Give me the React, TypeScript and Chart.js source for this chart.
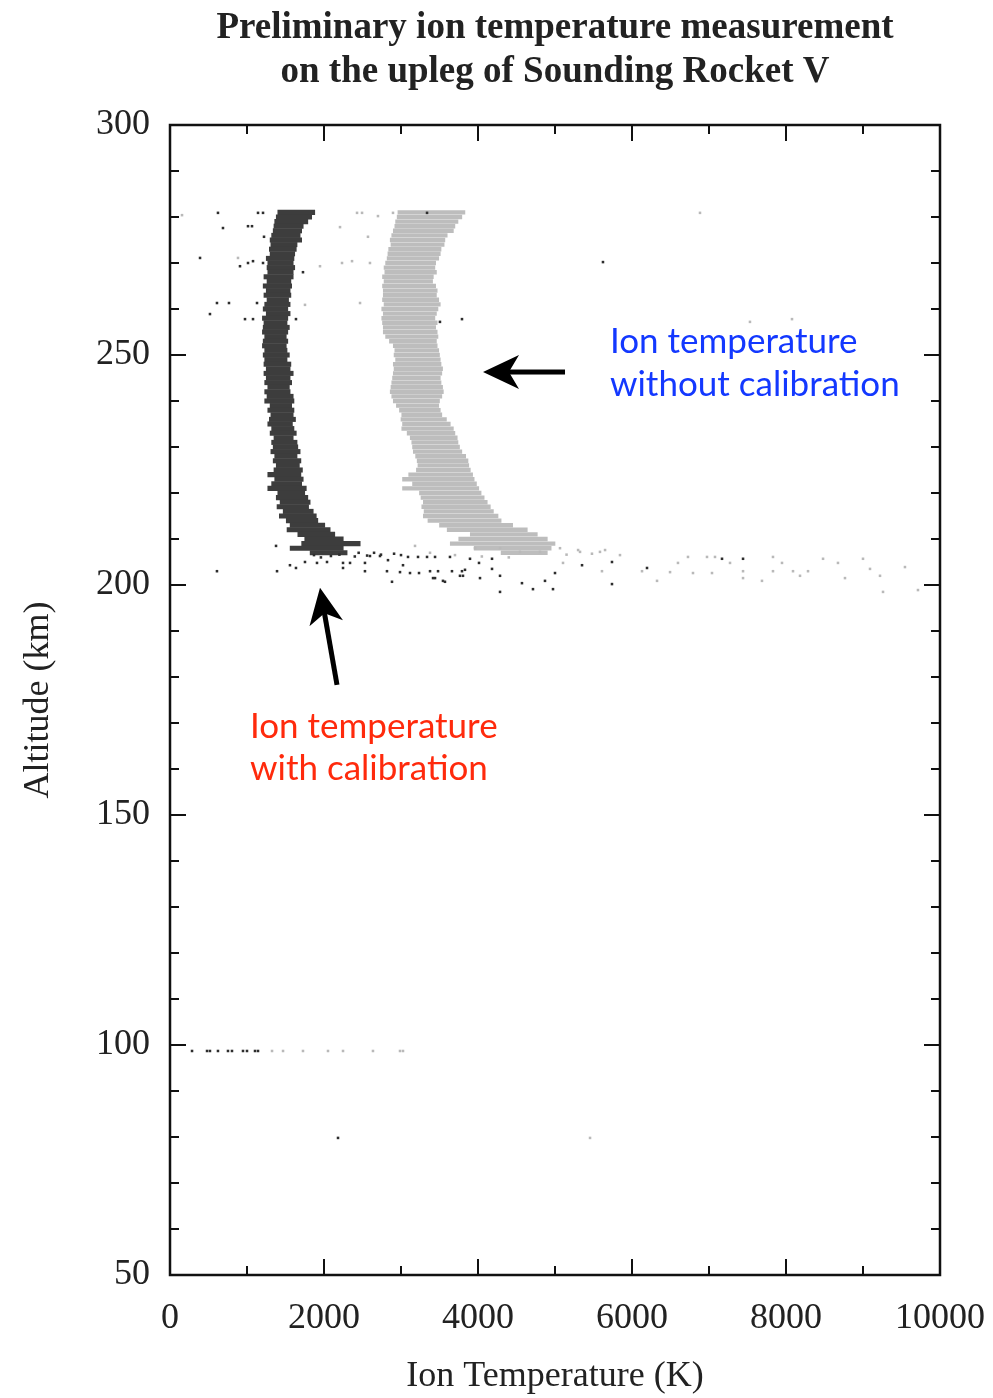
import React, { useEffect, useRef } from 'react';
import { Chart, registerables } from 'chart.js';

Chart.register(...registerables);

// ---------- data ----------
const bandAltitudes = [
  281, 280, 279, 278, 277, 276, 275, 274, 273, 272,
  271, 270, 269, 268, 267, 266, 265, 264, 263, 262,
  261, 260, 259, 258, 257, 256, 255, 254, 253, 252,
  251, 250, 249, 248, 247, 246, 245, 244, 243, 242,
  241, 240, 239, 238, 237, 236, 235, 234, 233, 232,
  231, 230, 229, 228, 227, 226, 225, 224, 223, 222,
  221, 220, 219, 218, 217, 216, 215, 214, 213, 212,
  211, 210, 209, 208, 207,
];

// calibrated (dark) band: min / max temperature at each altitude row
const darkLow = [
  1400, 1380, 1360, 1350, 1340, 1320, 1300, 1310, 1290, 1300,
  1250, 1270, 1260, 1270, 1220, 1260, 1210, 1250, 1220, 1260,
  1230, 1210, 1250, 1200, 1220, 1210, 1200, 1230, 1210, 1200,
  1230, 1210, 1230, 1220, 1250, 1220, 1250, 1230, 1270, 1230,
  1260, 1230, 1300, 1270, 1310, 1290, 1270, 1320, 1300, 1350,
  1320, 1340, 1310, 1360, 1340, 1380, 1350, 1270, 1360, 1320,
  1270, 1400, 1380, 1430, 1390, 1470, 1420, 1510, 1560, 1520,
  1660, 1750, 1710, 1560, 1820,
];
const darkHigh = [
  1880, 1840, 1790, 1730, 1710, 1690, 1710, 1650, 1640, 1620,
  1610, 1600, 1620, 1600, 1600, 1570, 1580, 1560, 1570, 1540,
  1560, 1530, 1560, 1530, 1520, 1550, 1530, 1510, 1530, 1510,
  1520, 1550, 1520, 1570, 1560, 1600, 1560, 1580, 1550, 1560,
  1600, 1610, 1580, 1610, 1600, 1630, 1590, 1610, 1640, 1600,
  1650, 1660, 1690, 1650, 1700, 1680, 1720, 1700, 1730, 1710,
  1770, 1750, 1790, 1820, 1800, 1860, 1900, 1920, 2010, 2080,
  2140, 2250, 2470, 2250, 2300,
];

// uncalibrated (light) band
const lightLow = [
  2960, 2950, 2930, 2920, 2900, 2880, 2860, 2870, 2840, 2830,
  2820, 2800, 2780, 2790, 2760, 2780, 2760, 2770, 2770, 2760,
  2780, 2750, 2770, 2750, 2760, 2770, 2770, 2800, 2850, 2900,
  2920, 2910, 2930, 2900, 2910, 2900, 2890, 2880, 2870, 2860,
  2880, 2900, 2940, 2980, 3010, 3000, 3020, 3010, 3080, 3120,
  3140, 3150, 3160, 3190, 3210, 3220, 3200, 3100, 3020, 3150,
  3020, 3240, 3260, 3290, 3270, 3300, 3290, 3350, 3500, 3600,
  3900, 3750, 3640, 3950, 4300,
];
const lightHigh = [
  3830, 3790, 3740, 3700, 3680, 3600, 3570, 3560, 3520, 3510,
  3490, 3450, 3440, 3460, 3420, 3410, 3450, 3470, 3460, 3490,
  3510, 3480, 3460, 3440, 3470, 3450, 3470, 3480, 3460, 3470,
  3490, 3500, 3510, 3520, 3540, 3530, 3510, 3520, 3540, 3550,
  3530, 3500, 3490, 3510, 3530, 3590, 3640, 3680, 3700, 3730,
  3740, 3760, 3790, 3840, 3870, 3880, 3900, 3930, 3950, 3980,
  4010, 4040, 4080, 4120, 4160, 4200, 4260, 4300, 4450, 4640,
  4770, 4900, 5000, 4950, 4900,
];

// scattered single samples
const darkDotTemp = [
  623, 1143, 1208, 688, 1013, 1065, 1221, 390, 909, 1013, 1078, 1208, 1727, 3338,
  610, 766, 1130, 519, 974, 1078, 1636, 3506, 3792, 5623,
  1377, 610, 1390, 1558, 1636, 1753, 1909, 2039, 2247, 2338, 2247, 2532, 2532,
  2597, 2727, 2831, 2818, 2883, 2987, 3026, 3091, 3117, 3221, 3234, 3338, 3377,
  3442, 3442, 3481, 3571, 3636, 3662, 3792, 3805, 3896, 4013, 4182, 3831, 4182,
  3766, 3416, 3545, 4026, 4286, 4571, 4714, 4286, 4870, 4974, 5000, 5351, 5740,
  5740, 6195, 7169, 7442,
  1870, 1960, 2090, 2200, 2400, 2450, 2560, 2650, 2740, 2910, 3000,
  286, 481, 519, 623, 753, 805, 948, 1000, 1104, 1143, 2182,
];
const darkDotAlt = [
  280.9, 280.9, 280.9, 277.6, 278.0, 278.0, 275.7, 271.1, 269.3, 270.0, 270.4, 270.0, 268.0, 280.9,
  261.3, 261.3, 261.3, 258.9, 257.8, 257.8, 257.8, 257.2, 257.8, 270.2,
  208.5, 203.0, 203.0, 204.3, 203.7, 205.0, 204.8, 205.0, 204.8, 204.8, 203.7, 204.8, 203.0,
  206.3, 206.3, 205.4, 203.0, 200.7, 202.8, 204.3, 206.1, 202.6, 206.1, 202.6, 206.1, 203.0,
  206.1, 201.5, 203.0, 200.7, 206.1, 203.0, 203.0, 202.0, 205.7, 204.8, 205.7, 203.3, 203.5,
  202.0, 201.5, 200.9, 201.5, 202.0, 200.4, 199.1, 198.5, 200.9, 199.1, 202.6, 204.3, 205.0,
  200.2, 203.7, 205.7, 205.7,
  206.5, 206.0, 206.3, 206.6, 206.2, 207.0, 206.4, 207.0, 206.6, 206.8, 206.5,
  98.7, 98.7, 98.7, 98.7, 98.7, 98.7, 98.7, 98.7, 98.7, 98.7, 79.8,
];

const lightDotTemp = [
  156, 883, 2208, 2571, 1948, 2234, 2364, 2597, 2468, 1753, 2429, 2494, 2701, 2896,
  6883, 7532, 8078,
  5104, 5610, 6130, 6325, 6494, 6597, 6727, 6792, 6974, 7039, 7078, 7273, 7442,
  7442, 7688, 7831, 7831, 7948, 8091, 8182, 8286, 8481, 8675, 8766, 9000, 9091,
  9221, 9260, 9545, 9714,
  3961, 4286, 4545, 4805, 5065, 5325, 5584, 5844, 3701, 3377, 3182,
  5150, 5300, 5480, 5650, 4050, 4400,
  1325, 1468, 1727, 2052, 2247, 2636, 2987, 3026, 5455,
];
const lightDotAlt = [
  280.4, 271.1, 277.8, 275.7, 269.3, 270.0, 270.4, 270.0, 261.3, 260.9, 280.9, 280.9, 280.2, 280.9,
  280.9, 257.2, 257.8,
  204.8, 203.0, 203.0, 200.9, 202.8, 204.8, 206.1, 202.6, 206.1, 202.6, 206.1, 204.8, 203.0,
  201.5, 200.9, 206.1, 203.0, 204.8, 203.0, 202.0, 203.0, 205.7, 204.8, 201.5, 205.7, 203.5,
  202.0, 198.5, 203.9, 198.9,
  208.0, 208.0, 207.2, 207.2, 208.0, 207.2, 207.2, 206.5, 206.5, 207.0, 208.5,
  206.6, 207.6, 206.8, 207.6, 206.2, 206.0,
  98.7, 98.7, 98.7, 98.7, 98.7, 98.7, 98.7, 98.7, 79.8,
];

const chartTitle = ['Preliminary ion temperature measurement', 'on the upleg of Sounding Rocket V'];
const xAxisTitle = 'Ion Temperature (K)';
const yAxisTitle = 'Altitude (km)';
const blueLabel = ['Ion temperature', 'without calibration'];
const redLabel = ['Ion temperature', 'with calibration'];

// annotation anchors in data units [temperature, altitude]
const blueLabelAnchor = { t: 5714, alts: [252.8, 243.5] };
const redLabelAnchor = { t: 1039, alts: [169.1, 160.0] };
const arrows = [
  { from: [5130, 246.3], to: [4065, 246.3] },
  { from: [2169, 178.3], to: [1948, 199.4] },
];

// ---------- helpers ----------
const SERIF = '"Liberation Serif", "Times New Roman", serif';
const SANS = 'Lato, "Open Sans", sans-serif';

function drawArrow(ctx: CanvasRenderingContext2D, x1: number, y1: number, x2: number, y2: number) {
  const headLen = 36;
  const headHalf = 17;
  const shaft = 5;
  const ang = Math.atan2(y2 - y1, x2 - x1);
  const len = Math.hypot(x2 - x1, y2 - y1);
  ctx.save();
  ctx.translate(x2, y2);
  ctx.rotate(ang);
  ctx.fillStyle = '#000';
  ctx.fillRect(-len, -shaft / 2, len - headLen * 0.6, shaft);
  ctx.beginPath();
  ctx.moveTo(0, 0);
  ctx.lineTo(-headLen, -headHalf);
  ctx.lineTo(-headLen * 0.72, 0);
  ctx.lineTo(-headLen, headHalf);
  ctx.closePath();
  ctx.fill();
  ctx.restore();
}

const framePlugin = {
  id: 'frameAndNotes',
  afterDraw(chart: any) {
    const { ctx, chartArea: a, scales } = chart;
    const xs = scales.x;
    const ys = scales.y;
    ctx.save();
    ctx.strokeStyle = '#111';
    ctx.lineWidth = 2;
    ctx.beginPath();
    for (let v = xs.min; v <= xs.max; v += 1000) {
      const px = Math.round(xs.getPixelForValue(v));
      const len = v % 2000 === 0 ? 16 : 9;
      ctx.moveTo(px, a.bottom);
      ctx.lineTo(px, a.bottom - len);
      ctx.moveTo(px, a.top);
      ctx.lineTo(px, a.top + len);
    }
    for (let v = ys.min; v <= ys.max; v += 10) {
      const py = Math.round(ys.getPixelForValue(v));
      const len = v % 50 === 0 ? 16 : 9;
      ctx.moveTo(a.left, py);
      ctx.lineTo(a.left + len, py);
      ctx.moveTo(a.right, py);
      ctx.lineTo(a.right - len, py);
    }
    ctx.stroke();
    ctx.lineWidth = 2.5;
    ctx.strokeRect(a.left, a.top, a.right - a.left, a.bottom - a.top);

    for (const ar of arrows) {
      drawArrow(
        ctx,
        xs.getPixelForValue(ar.from[0]), ys.getPixelForValue(ar.from[1]),
        xs.getPixelForValue(ar.to[0]), ys.getPixelForValue(ar.to[1]),
      );
    }

    ctx.font = `35px ${SANS}`;
    ctx.textAlign = 'left';
    ctx.textBaseline = 'middle';
    ctx.fillStyle = '#1338ff';
    blueLabel.forEach((line, i) => {
      ctx.fillText(line, xs.getPixelForValue(blueLabelAnchor.t), ys.getPixelForValue(blueLabelAnchor.alts[i]));
    });
    ctx.fillStyle = '#ff2a0c';
    redLabel.forEach((line, i) => {
      ctx.fillText(line, xs.getPixelForValue(redLabelAnchor.t), ys.getPixelForValue(redLabelAnchor.alts[i]));
    });
    ctx.restore();
  },
};

export default function App() {
  const canvasRef = useRef<HTMLCanvasElement | null>(null);

  useEffect(() => {
    const canvas = canvasRef.current;
    if (!canvas) return;

    const darkBars = bandAltitudes.map((alt, i) => ({ x: [darkLow[i], darkHigh[i]], y: alt }));
    const lightBars = bandAltitudes.map((alt, i) => ({ x: [lightLow[i], lightHigh[i]], y: alt }));
    const darkDots = darkDotTemp.map((t, i) => ({ x: t, y: darkDotAlt[i] }));
    const lightDots = lightDotTemp.map((t, i) => ({ x: t, y: lightDotAlt[i] }));

    const chart = new Chart(canvas, {
      type: 'scatter',
      data: {
        datasets: [
          {
            type: 'scatter',
            label: 'calibrated samples',
            data: darkDots,
            backgroundColor: '#2d2d2d',
            pointStyle: 'rect',
            pointRadius: 1.8,
            pointBorderWidth: 0,
            borderWidth: 0,
          } as any,
          {
            type: 'scatter',
            label: 'uncalibrated samples',
            data: lightDots,
            backgroundColor: '#b9b9b9',
            pointStyle: 'rect',
            pointRadius: 1.8,
            pointBorderWidth: 0,
            borderWidth: 0,
          } as any,
          {
            type: 'bar',
            label: 'with calibration',
            indexAxis: 'y',
            data: darkBars,
            backgroundColor: '#3d3d3d',
            barThickness: 4.4,
            grouped: false,
            borderWidth: 0,
          } as any,
          {
            type: 'bar',
            label: 'without calibration',
            indexAxis: 'y',
            data: lightBars,
            backgroundColor: '#bdbdbd',
            barThickness: 3.7,
            grouped: false,
            borderWidth: 0,
          } as any,
        ],
      },
      options: {
        responsive: false,
        animation: false,
        devicePixelRatio: 1,
        layout: { padding: { left: 0, right: 53, top: 0, bottom: 0 } },
        plugins: {
          legend: { display: false },
          tooltip: { enabled: false },
          title: {
            display: true,
            text: chartTitle,
            fullSize: false,
            color: '#222',
            font: { family: SERIF, size: 37, weight: 'bold', lineHeight: 1.2 },
            padding: { top: 6, bottom: 30.2 },
          },
        },
        scales: {
          x: {
            type: 'linear',
            min: 0,
            max: 10000,
            offset: false,
            grid: { display: false },
            border: { display: false },
            ticks: {
              stepSize: 2000,
              color: '#222',
              font: { family: SERIF, size: 36 },
              padding: 14,
              maxRotation: 0,
              callback: (v: any) => String(v),
            },
            title: {
              display: true,
              text: xAxisTitle,
              color: '#222',
              font: { family: SERIF, size: 36 },
              padding: { top: 0, bottom: 0 },
            },
            afterFit: (s: any) => { s.height = 123; s.paddingRight = 0; s.paddingLeft = 0; },
          },
          y: {
            type: 'linear',
            min: 50,
            max: 300,
            offset: false,
            grid: { display: false },
            border: { display: false },
            ticks: {
              stepSize: 50,
              color: '#222',
              font: { family: SERIF, size: 36 },
              padding: 12,
              callback: (v: any) => String(v),
            },
            title: {
              display: true,
              text: yAxisTitle,
              color: '#222',
              font: { family: SERIF, size: 36 },
              padding: { top: 17, bottom: 0 },
            },
            afterFit: (s: any) => { s.width = 170; s.paddingTop = 0; s.paddingBottom = 0; },
          },
        },
      } as any,
      plugins: [framePlugin],
    });

    return () => chart.destroy();
  }, []);

  return (
    <div style={{ position: 'absolute', left: 0, top: 0, width: 993, height: 1398, background: '#fff' }}>
      <canvas ref={canvasRef} width={993} height={1398} style={{ display: 'block' }} />
    </div>
  );
}
